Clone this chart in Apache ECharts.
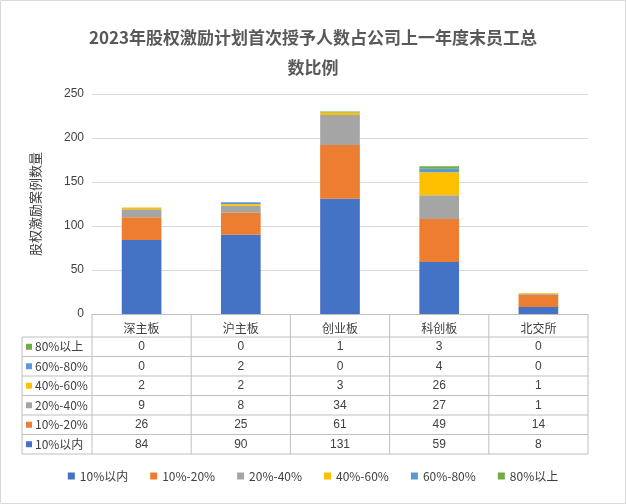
<!DOCTYPE html><html><head><meta charset="utf-8"><script src="https://cdn.jsdelivr.net/npm/echarts@6/dist/echarts.min.js"></script></head><body style="margin:0"><div id="c" style="width:626px;height:504px"></div><script>
const categories=['深主板','沪主板','创业板','科创板','北交所'];
const seriesNames=['10%以内','10%-20%','20%-40%','40%-60%','60%-80%','80%以上'];
const s1=[84,90,131,59,8];
const s2=[26,25,61,49,14];
const s3=[9,8,34,27,1];
const s4=[2,2,3,26,1];
const s5=[0,2,0,4,0];
const s6=[0,0,1,3,0];
const yTicks=[0,50,100,150,200,250];
const colors=['#4472C4','#ED7D31','#A5A5A5','#FFC000','#5B9BD5','#70AD47'];
const values=[s1,s2,s3,s4,s5,s6];
const chart=echarts.init(document.getElementById('c'));
const L=92,R=588,T=94,B=314,rowH=19.5,headH=23,tableL=22;
chart.setOption({
 animation:false,
 title:{text:'2023年股权激励计划首次授予人数占公司上一年度末员工总\n数比例',left:'center',top:18,textStyle:{fontSize:17,fontWeight:'bold',color:'#595959',lineHeight:30,fontFamily:'Noto Sans CJK SC'}},
 grid:{left:L,right:626-R,top:T,bottom:504-B},
 legend:{bottom:17,itemWidth:7,itemHeight:7,itemGap:22,icon:'rect',textStyle:{fontSize:12,color:'#404040',fontFamily:'Noto Sans CJK SC'},data:seriesNames},
 xAxis:{type:'category',data:categories,axisTick:{show:false},axisLine:{lineStyle:{color:'#bfbfbf'}},axisLabel:{color:'#404040',fontSize:12,margin:8,fontFamily:'Noto Sans CJK SC'}},
 yAxis:{type:'value',min:0,max:250,interval:50,name:'股权激励案例数量',nameLocation:'middle',nameGap:50,nameRotate:90,nameTextStyle:{fontSize:13,color:'#404040',fontFamily:'Noto Sans CJK SC'},axisLabel:{color:'#404040',fontSize:12,formatter:v=>yTicks.includes(v)?v:''},splitLine:{lineStyle:{color:'#d9d9d9'}}},
 series:seriesNames.map((n,i)=>({name:n,type:'bar',stack:'a',barWidth:'40%',data:values[i],itemStyle:{color:colors[i]}}))
});
const g=[{type:'rect',shape:{x:0.5,y:0.5,width:625,height:503},style:{fill:'none',stroke:'#d9d9d9',lineWidth:1}}];
const colW=(R-L)/5;
const nRows=6;
const bottom=B+headH+rowH*nRows;
const ln=(x1,y1,x2,y2)=>g.push({type:'line',shape:{x1,y1,x2,y2},style:{stroke:'#bfbfbf',lineWidth:1}});
for(let c=0;c<=5;c++)ln(L+c*colW,B,L+c*colW,bottom);
ln(tableL,B+headH,tableL,bottom);
for(let r=0;r<=nRows;r++)ln(tableL,B+headH+r*rowH,R,B+headH+r*rowH);
const order=[5,4,3,2,1,0];
order.forEach((si,ri)=>{
 const yc=B+headH+rowH*ri+rowH/2;
 g.push({type:'rect',shape:{x:tableL+4,y:yc-3,width:6,height:6},style:{fill:colors[si]}});
 g.push({type:'text',x:tableL+13,y:yc,style:{text:seriesNames[si],fontSize:12,fill:'#404040',verticalAlign:'middle',fontFamily:'Noto Sans CJK SC'}});
 values[si].forEach((v,ci)=>{
  const x=chart.convertToPixel({xAxisIndex:0},categories[ci]);
  g.push({type:'text',x,y:yc,style:{text:String(v),fontSize:12,fill:'#404040',align:'center',verticalAlign:'middle'}});
 });
});
chart.setOption({graphic:g});
</script></body></html>
